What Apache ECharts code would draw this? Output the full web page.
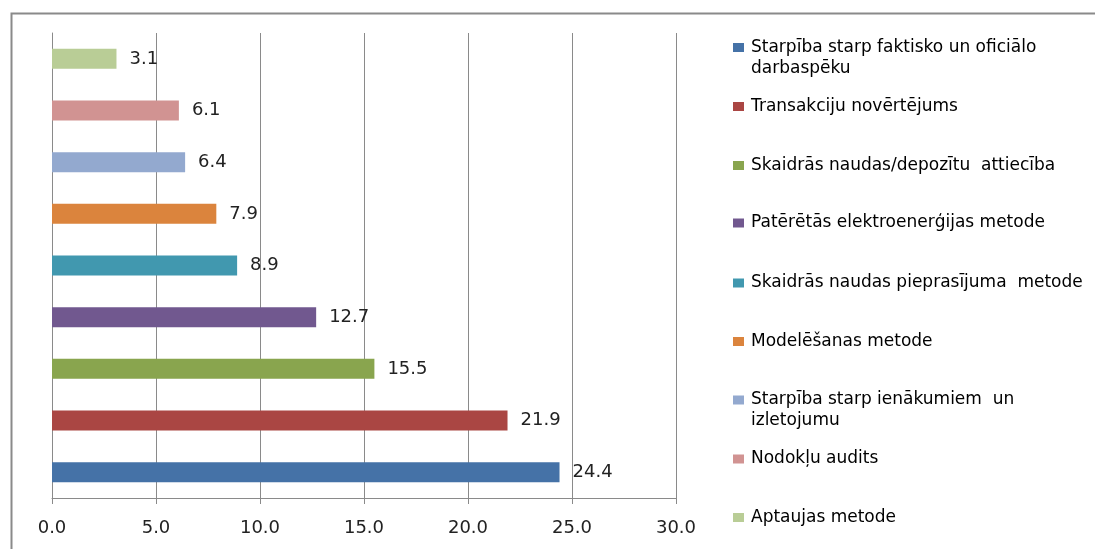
<!DOCTYPE html>
<html>
<head>
<meta charset="utf-8">
<script src="https://cdn.jsdelivr.net/npm/echarts@6/dist/echarts.min.js"></script>
<style>
html,body{margin:0;padding:0;background:#fff;}
#chart{width:1095px;height:549px;}
</style>
</head>
<body>
<div id="chart"></div>
<script>
// ---- data ----
const categories = [
  'Starpība starp faktisko un oficiālo\ndarbaspēku',
  'Transakciju novērtējums',
  'Skaidrās naudas/depozītu  attiecība',
  'Patērētās elektroenerģijas metode',
  'Skaidrās naudas pieprasījuma  metode',
  'Modelēšanas metode',
  'Starpība starp ienākumiem  un\nizletojumu',
  'Nodokļu audits',
  'Aptaujas metode'
];
const values = [24.4, 21.9, 15.5, 12.7, 8.9, 7.9, 6.4, 6.1, 3.1];
const colors = ['#4572A7', '#AA4643', '#89A54E', '#71588F', '#4198AF', '#DB843D', '#93A9CF', '#D19392', '#B9CD96'];
const xTicks = [0, 5, 10, 15, 20, 25, 30];

// legend first-line centres (layout)
const legendY = [47.5, 106.5, 165.5, 223, 283, 341.5, 400, 459, 517.5];

const font = 'DejaVu Sans';
const LH = 21;
const ICON_H = 9;

const series = categories.map((name, i) => ({
  name: name,
  type: 'bar',
  barWidth: 20,
  barGap: '-100%',
  itemStyle: { color: colors[i] },
  label: {
    show: true,
    position: 'right',
    distance: 13,
    fontFamily: font,
    fontSize: 18,
    color: '#222',
    formatter: p => Number(p.value).toFixed(1)
  },
  data: categories.map((c, j) => (j === i ? values[i] : null))
}));

const legends = categories.map((name, i) => {
  const lines = name.split('\n').length;
  const boxH = ICON_H + (lines - 1) * LH;
  return {
    data: [name],
    left: 733,
    top: legendY[i] - ICON_H / 2 - (LH - ICON_H) / 2,
    padding: 0,
    itemWidth: 11,
    itemHeight: boxH,
    itemGap: 0,
    icon: lines > 1 ? 'path://M0,0h11v' + ICON_H + 'h-11zM0,' + boxH : 'rect',
    textStyle: {
      fontFamily: font,
      fontSize: 17,
      color: '#000',
      lineHeight: LH,
      padding: [0, 0, 0, 2]
    },
    selectedMode: false
  };
});

const chart = echarts.init(document.getElementById('chart'), null, { renderer: 'canvas' });
chart.setOption({
  animation: false,
  backgroundColor: '#fff',
  graphic: [{
    type: 'polyline',
    shape: { points: [[11.5, 549], [11.5, 13.5], [1095, 13.5]] },
    style: { stroke: '#8a8a8a', lineWidth: 2, fill: null },
    silent: true
  }],
  legend: legends,
  grid: { left: 52, right: 419, top: 33, bottom: 51, containLabel: false },
  xAxis: {
    type: 'value',
    min: xTicks[0],
    max: xTicks[xTicks.length - 1],
    interval: 5,
    axisLine: { show: true, lineStyle: { color: '#8a8a8a', width: 1 } },
    axisTick: { show: true, length: 6, lineStyle: { color: '#8a8a8a' } },
    splitLine: { show: true, lineStyle: { color: '#8a8a8a', width: 1 } },
    axisLabel: {
      margin: 21,
      fontFamily: font,
      fontSize: 18,
      color: '#222',
      formatter: v => v.toFixed(1)
    }
  },
  yAxis: {
    type: 'category',
    data: categories,
    axisLine: { show: true, lineStyle: { color: '#8a8a8a', width: 1 } },
    axisTick: { show: false },
    axisLabel: { show: false },
    splitLine: { show: false }
  },
  series: series
});
</script>
</body>
</html>
